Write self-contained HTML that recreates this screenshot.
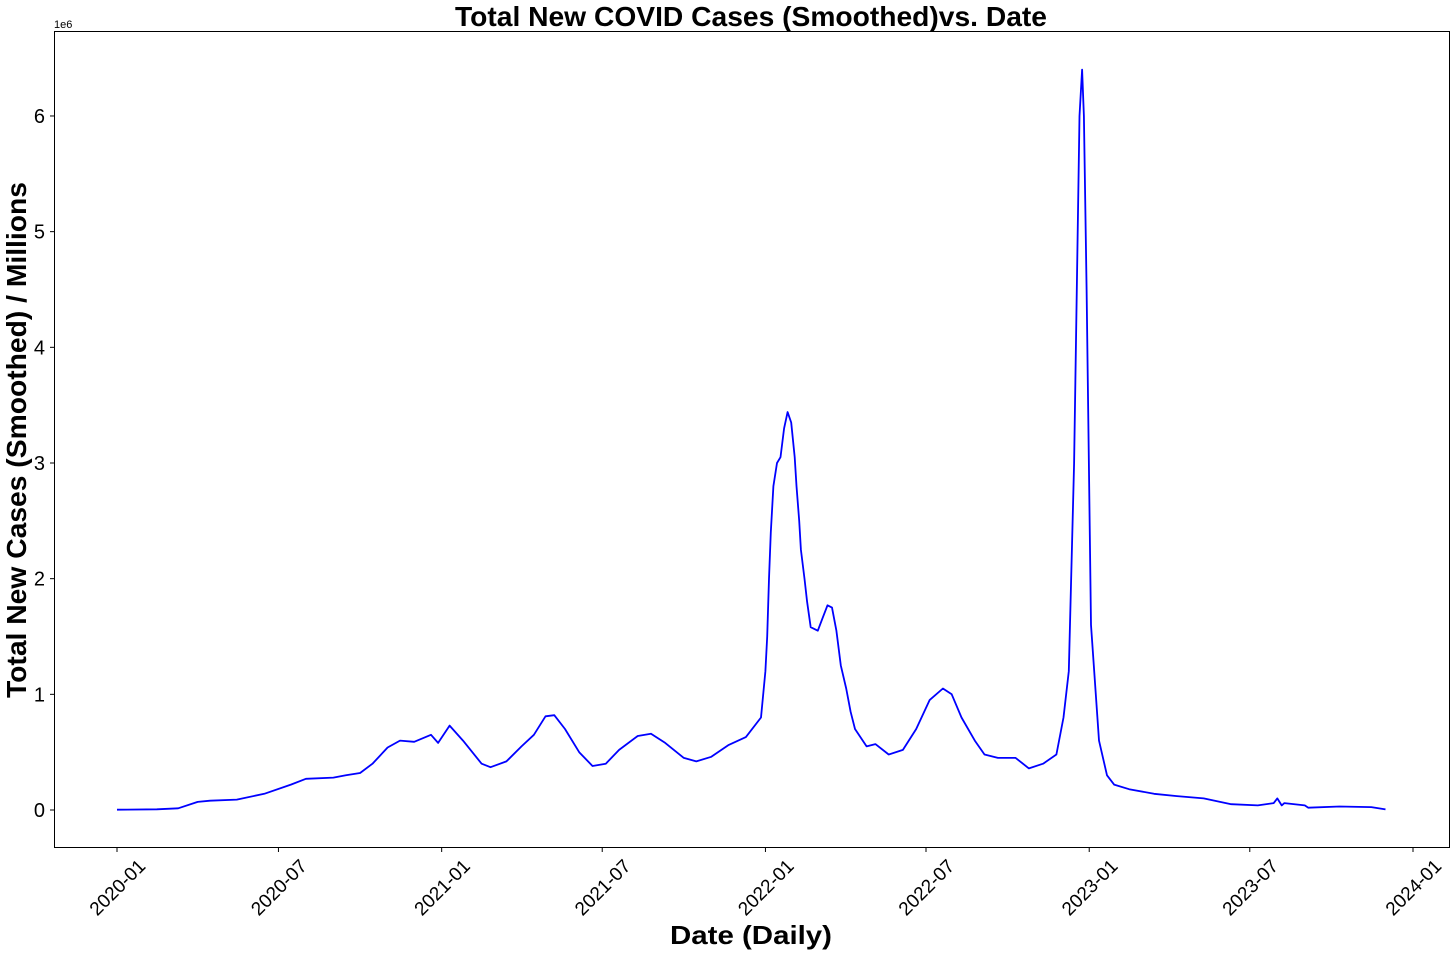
<!DOCTYPE html>
<html><head><meta charset="utf-8"><style>
body{margin:0;background:#fff;font-family:"Liberation Sans",sans-serif}
svg text{font-family:"Liberation Sans",sans-serif}
</style></head><body>
<svg id="chart" width="1455" height="955" xmlns="http://www.w3.org/2000/svg">
<text x="751" y="26" text-anchor="middle" font-size="28" font-weight="bold" textLength="592" lengthAdjust="spacingAndGlyphs">Total New COVID Cases (Smoothed)vs. Date</text>
<text transform="translate(26,440) rotate(-90)" text-anchor="middle" font-size="28" font-weight="bold" textLength="516" lengthAdjust="spacingAndGlyphs">Total New Cases (Smoothed) / Millions</text>
<text x="751" y="944" text-anchor="middle" font-size="26" font-weight="bold" textLength="162" lengthAdjust="spacingAndGlyphs">Date (Daily)</text>
<text x="54" y="28" font-size="11">1e6</text>
<g id="axes"></g>
<rect x="54.5" y="31.5" width="1395" height="816" fill="none" stroke="#000" stroke-width="1"/>
</svg>
<script>
const dates=["2020-01-01","2020-02-15","2020-03-10","2020-04-01","2020-04-15","2020-05-15","2020-06-15","2020-07-15","2020-08-01","2020-09-01","2020-09-15","2020-10-01","2020-10-15","2020-11-01","2020-11-15","2020-12-01","2020-12-20","2020-12-28","2021-01-10","2021-01-25","2021-02-15","2021-02-25","2021-03-15","2021-04-01","2021-04-15","2021-04-28","2021-05-08","2021-05-20","2021-06-05","2021-06-20","2021-07-05","2021-07-20","2021-08-10","2021-08-25","2021-09-10","2021-10-01","2021-10-15","2021-11-01","2021-11-20","2021-12-10","2021-12-27","2022-01-01","2022-01-03","2022-01-05","2022-01-07","2022-01-10","2022-01-14","2022-01-18","2022-01-22","2022-01-26","2022-01-30","2022-02-03","2022-02-05","2022-02-08","2022-02-10","2022-02-14","2022-02-17","2022-02-21","2022-03-01","2022-03-06","2022-03-12","2022-03-17","2022-03-22","2022-03-27","2022-04-02","2022-04-07","2022-04-12","2022-04-25","2022-05-05","2022-05-20","2022-06-05","2022-06-20","2022-07-05","2022-07-20","2022-07-30","2022-08-10","2022-08-25","2022-09-05","2022-09-20","2022-10-10","2022-10-25","2022-11-10","2022-11-25","2022-12-03","2022-12-09","2022-12-15","2022-12-18","2022-12-21","2022-12-24","2022-12-26","2022-12-29","2023-01-03","2023-01-12","2023-01-21","2023-01-29","2023-02-15","2023-03-15","2023-04-10","2023-05-10","2023-06-10","2023-07-10","2023-07-28","2023-08-01","2023-08-06","2023-08-09","2023-09-01","2023-09-05","2023-10-10","2023-11-15","2023-12-01"];
const values=[0.003,0.006,0.015,0.07,0.08,0.09,0.14,0.22,0.27,0.28,0.3,0.32,0.4,0.54,0.6,0.59,0.65,0.58,0.73,0.6,0.4,0.37,0.42,0.55,0.65,0.81,0.82,0.7,0.5,0.38,0.4,0.52,0.64,0.66,0.58,0.45,0.42,0.46,0.56,0.63,0.8,1.2,1.5,2.0,2.4,2.8,3.0,3.05,3.3,3.44,3.35,3.05,2.8,2.5,2.25,2.0,1.8,1.58,1.55,1.65,1.77,1.75,1.55,1.25,1.05,0.85,0.7,0.55,0.57,0.48,0.52,0.7,0.95,1.05,1.0,0.8,0.6,0.48,0.45,0.45,0.36,0.4,0.48,0.8,1.2,3.0,4.5,6.0,6.4,6.0,4.5,1.6,0.6,0.3,0.22,0.18,0.14,0.12,0.1,0.05,0.04,0.06,0.1,0.04,0.06,0.04,0.02,0.03,0.025,0.005];
const yTicks=[0,1,2,3,4,5,6];
const xTicks=["2020-01","2020-07","2021-01","2021-07","2022-01","2022-07","2023-01","2023-07","2024-01"];
const NS="http://www.w3.org/2000/svg";
const t0=Date.UTC(2020,0,1),t1=Date.UTC(2024,0,1);
function xs(d){const p=d.split("-");const t=Date.UTC(+p[0],+p[1]-1,p[2]?+p[2]:1);return 117+(t-t0)/(t1-t0)*(1413-117);}
function ys(v){return 810-v*115.67;}
const svg=document.getElementById("chart"),g=document.getElementById("axes");
function mk(tag,attrs){const e=document.createElementNS(NS,tag);for(const k in attrs)e.setAttribute(k,attrs[k]);return e;}
yTicks.forEach(v=>{
 const y=ys(v);
 const l=mk("line",{x1:50,x2:54,y1:y,y2:y,stroke:"#000"});
 
 
 g.appendChild(l);
 const t=mk("text",{x:45,y:y+7,"text-anchor":"end","font-size":20});
 
 
 t.textContent=v;g.appendChild(t);
});
xTicks.forEach(d=>{
 const x=xs(d);
 const l=mk("line",{x1:x,x2:x,y1:848,y2:852,stroke:"#000"});
 
 
 g.appendChild(l);
 const cy=887;
 const t=mk("text",{x:x,y:cy+7,"text-anchor":"middle","font-size":19,transform:`rotate(-45 ${x} ${cy})`});
 
 
 t.textContent=d;g.appendChild(t);
});
const pts=dates.map((d,i)=>xs(d).toFixed(1)+","+ys(values[i]).toFixed(1)).join(" ");
const line=mk("polyline",{points:pts,fill:"none",stroke:"#0000ff","stroke-width":1.8,"stroke-linejoin":"round"});


g.appendChild(line);
</script>
</body></html>
